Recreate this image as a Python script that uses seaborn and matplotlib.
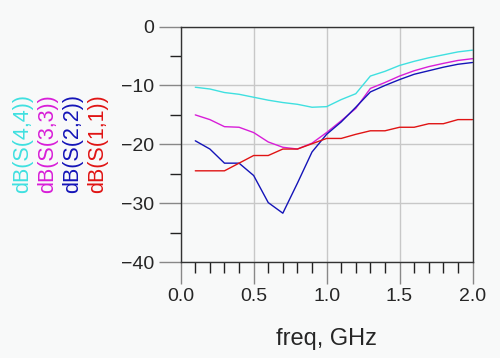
import matplotlib
matplotlib.use("Agg")
import matplotlib.pyplot as plt
from matplotlib.ticker import MultipleLocator
import seaborn as sns
import pandas as pd
import numpy as np

####### Data #######
freq = [0.1, 0.2, 0.3, 0.4, 0.5, 0.6, 0.7, 0.8, 0.9, 1.0,
        1.1, 1.2, 1.3, 1.4, 1.5, 1.6, 1.7, 1.8, 1.9, 2.0]
s44 = [-10.3, -10.6, -11.2, -11.5, -12.0, -12.5, -12.9, -13.2, -13.7, -13.6,
       -12.4, -11.4, -8.4, -7.6, -6.6, -5.9, -5.3, -4.8, -4.3, -4.0]
s33 = [-15.0, -15.8, -17.0, -17.1, -18.0, -19.6, -20.5, -20.8, -19.8, -18.0,
       -16.0, -13.9, -10.5, -9.5, -8.4, -7.5, -6.8, -6.25, -5.75, -5.45]
s22 = [-19.4, -20.8, -23.2, -23.2, -25.3, -29.9, -31.7, -26.6, -21.3, -18.3,
       -16.2, -13.7, -11.1, -10.0, -9.0, -8.1, -7.5, -6.9, -6.4, -6.1]
s11 = [-24.5, -24.5, -24.5, -23.2, -21.9, -21.9, -20.8, -20.8, -19.9, -19.0,
       -19.0, -18.3, -17.7, -17.7, -17.1, -17.1, -16.5, -16.5, -15.8, -15.8]

names = ['dB(S(4,4))', 'dB(S(3,3))', 'dB(S(2,2))', 'dB(S(1,1))']
colors = ['#3fe0e0', '#d81ed8', '#1414b8', '#e01414']

df = pd.DataFrame({'freq': freq * 4,
                   'val': s44 + s33 + s22 + s11,
                   'trace': np.repeat(names, len(freq))})

####### Plot #######
sns.set_theme(style="ticks")
plt.rcParams['font.family'] = ['Liberation Sans', 'DejaVu Sans']
bg = '#f8f9f9'

fig = plt.figure(figsize=(5, 3.58), dpi=100, facecolor=bg)
ax = fig.add_axes([0.3614, 0.268, 0.5836, 0.6577])
ax.set_facecolor(bg)

sns.lineplot(data=df, x='freq', y='val', hue='trace', palette=dict(zip(names, colors)),
             linewidth=1.0, legend=False, ax=ax)

ax.set_xlim(0, 2)
ax.set_ylim(-40, 0)
ax.xaxis.set_major_locator(MultipleLocator(0.5))
ax.xaxis.set_minor_locator(MultipleLocator(0.1))
ax.yaxis.set_major_locator(MultipleLocator(10))
ax.yaxis.set_minor_locator(MultipleLocator(5))
ax.set_xticklabels([f'{v:.1f}' for v in ax.get_xticks()])
ax.grid(True, which='major', color='#c8c8c8', linewidth=1.0)

ax.tick_params(which='major', length=16, width=1, color='#888888', labelsize=14, pad=3)
ax.tick_params(which='minor', length=8, width=1, color='#222222')
for sp in ax.spines.values():
    sp.set_color('#333333')
    sp.set_linewidth(1.0)

ax.set_xlabel('freq, GHz', fontsize=17, labelpad=16)
ax.set_ylabel('')

# stacked rotated trace labels on the left
for i, (n, c) in enumerate(zip(names, colors)):
    fig.text(0.046 + i * 0.0495, 0.60, n, color=c, rotation=90,
             ha='center', va='center', fontsize=15.5)

fig.savefig('out.png', dpi=100, facecolor=bg)
